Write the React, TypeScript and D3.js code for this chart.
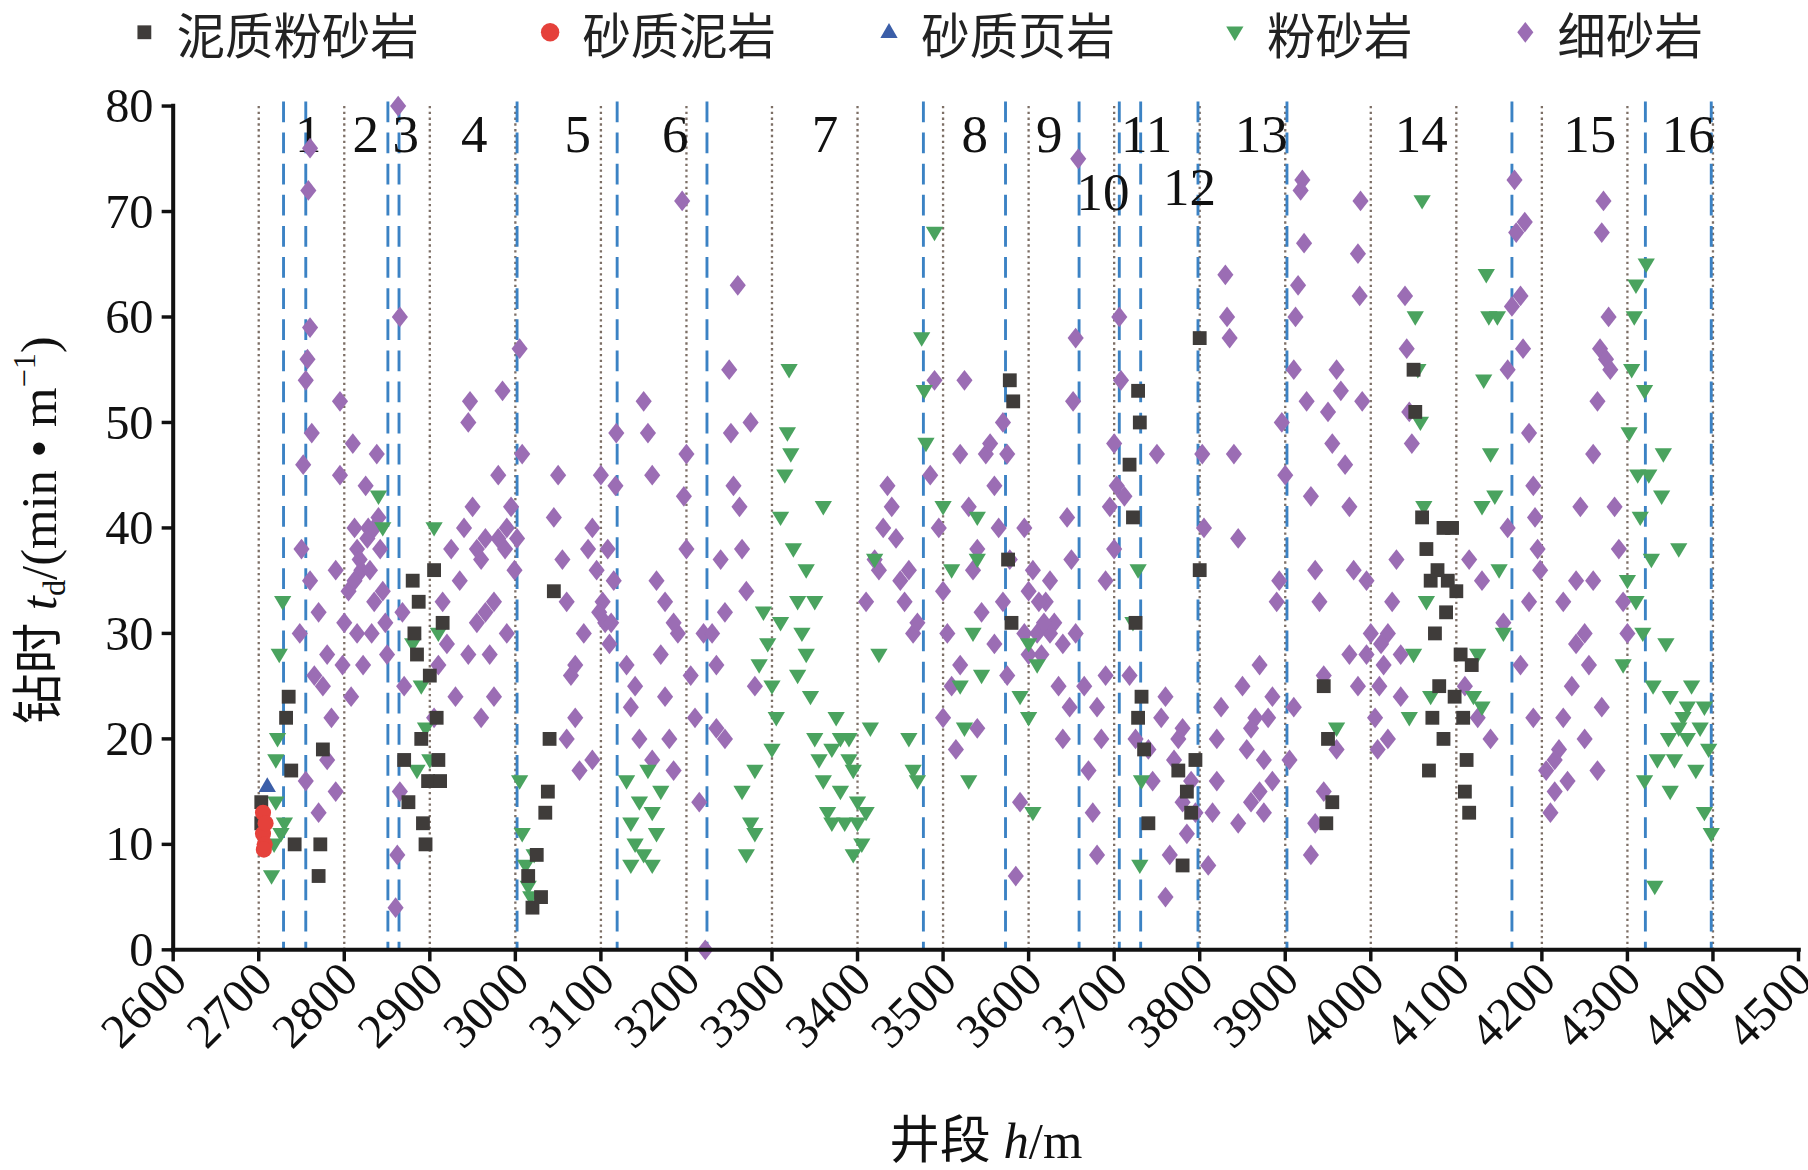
import React from "react";
import * as d3 from "d3";

const xTicks = [2600,2700,2800,2900,3000,3100,3200,3300,3400,3500,3600,3700,3800,3900,4000,4100,4200,4300,4400,4500];
const yTicks = [0,10,20,30,40,50,60,70,80];
const grayLines = [2700,2800,2900,3000,3100,3200,3300,3400,3500,3600,3700,3800,3900,4000,4100,4200,4300,4400];
const blueLines = [2729,2755,2851,2864,3002,3119,3224,3477,3573,3659,3706,3731,3798,3902,4165,4321,4398];
const zoneLabels: [string, number, number][] = [["1",2758,80],["2",2825,80],["3",2872,80],["4",2952,80],["5",3073,80],["6",3187,80],["7",3362,80],["8",3537,80],["9",3624,80],["10",3687,74.5],["11",3738,80],["12",3788,75],["13",3872,80],["14",4059,80],["15",4256,80],["16",4371,80]];

const fineSand: [number, number][] = [
[2750,38],[2752,46],[2755,54],[2757,56],[2758,72],[2760,76],[2760,59],[2762,49],[2765,26],[2770,32],[2775,25],[2780,28],[2785,22],[2790,36],[2795,45],[2795,52],[2798,27],[2790,15],[2770,13],[2755,16],[2760,35],[2748,30],[2780,18],
[2805,34],[2810,48],[2812,40],[2815,38],[2820,36],[2825,44],[2828,40],[2830,36],[2835,33],[2838,47],[2840,41],[2842,38],[2845,34],[2848,31],[2850,28],[2808,24],[2815,30],[2822,27],[2832,30],[2800,31],[2818,37],[2827,39],[2835,40],[2812,35],
[2863,80],[2865,60],[2860,4],[2862,9],[2865,15],[2870,25],[2868,32],
[2905,22],[2910,27],[2915,33],[2920,29],[2925,38],[2930,24],[2935,35],[2940,40],[2945,50],[2947,52],[2950,42],[2955,31],[2960,37],[2965,39],[2970,28],[2975,33],[2980,45],[2985,53],[2988,38],[2990,30],[2995,42],[2999,36],[2960,22],[2975,24],[2990,40],[2945,28],[2955,38],[2965,32],[2980,39],
[3005,57],[3008,47],[3002,39],[3050,45],[3045,41],[3055,37],[3060,33],[3065,26],[3070,22],[3075,17],[3080,30],[3085,38],[3090,40],[3095,36],[3100,45],[3102,33],[3105,31],[3110,29],[3115,35],[3118,49],[3117,44],[3060,20],[3070,27],[3090,18],[3112,31],[3108,38],[3098,32],
[3130,27],[3135,23],[3150,52],[3155,49],[3160,45],[3165,35],[3170,28],[3175,24],[3180,20],[3185,17],[3190,30],[3195,71],[3197,43],[3200,38],[3205,26],[3210,22],[3215,14],[3220,30],[3222,0],[3200,47],[3185,31],[3145,20],[3140,25],[3160,18],[3175,33],
[3230,30],[3235,27],[3240,37],[3245,32],[3250,55],[3252,49],[3255,44],[3260,63],[3262,42],[3265,38],[3270,34],[3275,50],[3280,25],[3245,20],[3235,21],
[3410,33],[3420,37],[3430,40],[3435,44],[3440,42],[3445,39],[3450,35],[3455,33],[3460,36],[3465,30],[3470,31],[3425,36],
[3485,45],[3490,54],[3495,40],[3500,34],[3505,30],[3510,25],[3515,19],[3520,47],[3525,54],[3530,42],[3535,36],[3540,38],[3545,32],[3550,47],[3555,48],[3560,44],[3565,40],[3570,50],[3575,47],[3578,37],[3500,22],[3520,27],[3540,21],[3560,29],[3575,26],[3570,33],
[3585,7],[3590,14],[3595,30],[3600,34],[3605,36],[3610,30],[3615,28],[3620,33],[3625,35],[3630,31],[3635,25],[3640,29],[3645,41],[3650,37],[3655,30],[3658,75],[3655,58],[3652,52],[3648,23],[3640,20],[3600,28],[3625,30],[3595,40],[3612,33],[3618,31],
[3665,25],[3670,17],[3675,13],[3680,9],[3685,20],[3690,35],[3695,42],[3700,48],[3703,44],[3706,60],[3708,54],[3700,38],[3690,26],[3680,23],
[3712,43],[3718,26],[3725,20],[3740,19],[3745,16],[3750,47],[3755,22],[3760,5],[3765,9],[3770,18],[3775,20],[3780,14],[3785,11],[3790,16],[3795,13],[3760,24],[3780,21],
[3803,47],[3805,40],[3810,8],[3815,13],[3820,16],[3825,23],[3830,64],[3832,60],[3835,58],[3840,47],[3845,39],[3850,25],[3855,19],[3860,14],[3865,22],[3870,27],[3875,18],[3880,22],[3885,16],[3890,33],[3893,35],[3896,50],[3900,45],[3820,20],[3845,12],[3870,15],[3885,24],[3860,21],[3875,13],
[3905,18],[3910,55],[3912,60],[3915,63],[3918,72],[3920,73],[3922,67],[3925,52],[3930,43],[3935,36],[3940,33],[3945,26],[3950,51],[3955,48],[3960,55],[3965,53],[3970,46],[3975,42],[3980,36],[3985,66],[3987,62],[3988,71],[3990,52],[3995,35],[3930,9],[3935,12],[3960,19],[3975,28],[3910,23],[3945,15],[3985,25],[3995,28],
[4005,22],[4010,25],[4015,27],[4020,30],[4025,33],[4030,37],[4035,28],[4040,62],[4042,57],[4045,51],[4048,48],[4000,30],[4008,19],[4020,20],[4035,24],[4012,29],
[4110,25],[4115,37],[4125,22],[4130,35],[4140,20],[4155,31],[4160,55],[4165,61],[4168,73],[4170,68],[4175,62],[4178,57],[4180,69],[4185,49],[4190,44],[4192,41],[4195,38],[4198,36],[4160,40],[4175,27],[4185,33],[4190,22],
[4205,17],[4210,13],[4215,15],[4220,19],[4225,22],[4230,16],[4235,25],[4240,35],[4245,42],[4250,30],[4255,27],[4260,47],[4265,52],[4268,57],[4270,68],[4272,71],[4275,56],[4278,60],[4280,55],[4285,42],[4290,38],[4295,33],[4300,30],[4265,17],[4270,23],[4250,20],[4225,33],[4240,29],[4215,18],[4260,35]
];

const siltstone: [number, number][] = [
[2715,7],[2718,10],[2720,18],[2722,20],[2724,28],[2728,33],[2730,12],[2726,11],[2720,14],
[2840,43],[2845,40],[2880,29],[2890,25],[2895,21],[2900,18],[2905,40],[2910,30],[2885,17],
[3005,16],[3008,11],[3012,8],[3015,6],[3018,5],[3022,9],
[3130,16],[3135,12],[3140,10],[3145,14],[3150,9],[3155,17],[3160,13],[3165,11],[3170,15],[3135,8],[3160,8],
[3265,15],[3270,9],[3275,12],[3280,17],[3285,27],[3290,32],[3295,29],[3300,25],[3305,22],[3310,41],[3315,45],[3318,49],[3320,55],[3322,47],[3325,38],[3330,33],[3335,30],[3340,28],[3345,24],[3350,20],[3355,18],[3360,16],[3365,13],[3370,19],[3375,22],[3380,15],[3385,12],[3390,20],[3395,17],[3400,14],[3405,10],[3410,13],[3415,21],[3420,37],[3425,28],[3395,9],[3360,42],[3340,36],[3300,19],[3280,11],[3350,33],[3390,18],[3370,12],[3310,31],[3330,26],[3380,20],[3400,12],
[3460,20],[3465,17],[3470,16],[3475,58],[3478,53],[3480,48],[3490,68],[3500,42],[3510,36],[3520,25],[3530,16],[3535,30],[3540,37],[3545,26],[3525,21],[3540,41],
[3590,24],[3600,22],[3605,13],[3610,27],[3600,29],
[3722,31],[3728,36],[3730,8],[3732,16],
[3960,21],
[4045,22],[4050,28],[4052,60],[4055,55],[4058,50],[4060,71],[4062,42],[4065,33],[4070,24],[4120,24],[4125,28],[4130,42],[4132,54],[4135,64],[4138,60],[4140,47],[4145,43],[4148,60],[4150,36],[4155,30],[4130,23],
[4295,27],[4300,35],[4302,49],[4305,55],[4308,60],[4310,63],[4312,45],[4315,41],[4318,30],[4320,53],[4322,65],[4325,45],[4328,37],[4330,25],[4332,6],[4335,18],[4340,43],[4342,47],[4345,29],[4348,20],[4350,24],[4355,18],[4360,38],[4365,22],[4370,20],[4375,25],[4380,17],[4385,21],[4390,13],[4395,19],[4398,11],[4390,23],[4320,16],[4310,33],[4350,15],[4360,21],[4370,23]
];

const muddySilt: [number, number][] = [
[2703,12],[2703,14],[2732,22],[2735,24],[2738,17],[2742,10],[2770,7],[2772,10],[2775,19],[2870,18],[2875,14],[2880,35],[2882,30],[2885,28],[2887,33],[2890,20],[2892,12],[2895,10],[2898,16],[2900,26],[2905,36],[2908,22],[2910,18],[2915,31],[2912,16],
[3015,7],[3020,4],[3025,9],[3030,5],[3035,13],[3040,20],[3045,34],[3038,15],
[3578,54],[3582,52],[3576,37],[3580,31],
[3718,46],[3722,41],[3725,31],[3728,53],[3730,50],[3732,24],[3735,19],[3740,12],[3728,22],[3775,17],[3785,15],[3790,13],[3795,18],[3800,58],[3800,36],[3780,8],
[3945,25],[3950,20],[3955,14],[3948,12],
[4050,55],[4052,51],[4060,41],[4065,38],[4070,35],[4075,30],[4080,25],[4085,20],[4090,35],[4095,40],[4100,34],[4105,28],[4108,22],[4112,18],[4115,13],[4118,27],[4068,17],[4078,36],[4088,32],[4098,24],[4110,15],[4085,40],[4072,22]
];

const sandyMud: [number, number][] = [[2705,13],[2705,11],[2707,10],[2708,12],[2706,9.5]];
const sandyShale: [number, number][] = [[2710,15.5]];

const C = { black: "#3f3c3a", red: "#e5413b", blue: "#3b5ea8", green: "#4aa35f", purple: "#9b6db4" };

const diamondPath = "M0,-9L7,0L0,9L-7,0Z";
const tri = "M0,-8L7.5,5L-7.5,5Z";
const triDown = "M0,7.5L-7.5,-5L7.5,-5Z";
const sq = "M-6,-6H6V6H-6Z";

export default function App() {
  const x = d3.scaleLinear().domain([2600, 4500]).range([150, 1560]);
  const y = d3.scaleLinear().domain([0, 80]).range([824, 92]);
  const serif = "'Liberation Serif', 'Times New Roman', serif";
  const cjk = "'Noto Sans CJK SC', sans-serif";
  const legend = [
    { label: "泥质粉砂岩", x: 125, d: sq, c: C.black },
    { label: "砂质泥岩", x: 477, d: "", c: C.red },
    { label: "砂质页岩", x: 771, d: tri, c: C.blue },
    { label: "粉砂岩", x: 1071, d: triDown, c: C.green },
    { label: "细砂岩", x: 1323, d: diamondPath, c: C.purple },
  ];
  return (
    <svg width={1808} height={1170} viewBox="0 0 1568 1015" style={{ position: "absolute", left: 0, top: 0, background: "#fff" }}>
      {legend.map((l) => (
        <g key={l.label}>
          {l.d ? <path d={l.d} transform={`translate(${l.x},28)`} fill={l.c} /> : <circle cx={l.x} cy={28} r={8} fill={l.c} />}
          <text x={l.x + 28} y={47} fontFamily={cjk} fontSize={42} fill="#222">{l.label}</text>
        </g>
      ))}
      {grayLines.map((v) => (
        <line key={"g" + v} x1={x(v)} x2={x(v)} y1={92} y2={824} stroke="#7d6f66" strokeWidth={2} strokeDasharray="2,3" />
      ))}
      {blueLines.map((v, i) => (
        <line key={"b" + i} x1={x(v)} x2={x(v)} y1={88} y2={824} stroke="#3b82c4" strokeWidth={2.5} strokeDasharray="18,9" />
      ))}
      {zoneLabels.map(([t, h, v]) => (
        <text key={"z" + t} x={x(h)} y={y(v) + 40} textAnchor="middle" fontFamily={serif} fontSize={46} fill="#111">{t}</text>
      ))}
      {fineSand.map(([h, v], i) => <path key={"p" + i} d={diamondPath} transform={`translate(${x(h)},${y(v)})`} fill={C.purple} />)}
      {siltstone.map(([h, v], i) => <path key={"s" + i} d={triDown} transform={`translate(${x(h)},${y(v)})`} fill={C.green} />)}
      {muddySilt.map(([h, v], i) => <path key={"m" + i} d={sq} transform={`translate(${x(h)},${y(v)})`} fill={C.black} />)}
      {sandyMud.map(([h, v], i) => <circle key={"r" + i} cx={x(h)} cy={y(v)} r={7} fill={C.red} />)}
      {sandyShale.map(([h, v], i) => <path key={"t" + i} d={tri} transform={`translate(${x(h)},${y(v)})`} fill={C.blue} />)}
      <line x1={150} x2={150} y1={90} y2={826} stroke="#111" strokeWidth={3.5} />
      <line x1={148} x2={1562} y1={824} y2={824} stroke="#111" strokeWidth={3.5} />
      {yTicks.map((t) => (
        <g key={"yt" + t}>
          <line x1={140} x2={150} y1={y(t)} y2={y(t)} stroke="#111" strokeWidth={3} />
          <text x={133} y={y(t) + 14} textAnchor="end" fontFamily={serif} fontSize={42} fill="#111">{t}</text>
        </g>
      ))}
      {xTicks.map((t) => (
        <g key={"xt" + t}>
          <line x1={x(t)} x2={x(t)} y1={824} y2={834} stroke="#111" strokeWidth={3} />
          <text transform={`translate(${x(t) + 14},${852}) rotate(-45)`} textAnchor="end" fontFamily={serif} fontSize={42} fill="#111">{t}</text>
        </g>
      ))}
      <text transform="translate(48,460) rotate(-90)" textAnchor="middle" fontSize={44} fill="#111">
        <tspan fontFamily={cjk}>钻时</tspan>
        <tspan fontFamily={serif} fontStyle="italic"> t</tspan>
        <tspan fontFamily={serif} fontSize={28} dy={8}>d</tspan>
        <tspan fontFamily={serif} dy={-8}>/(min • m</tspan>
        <tspan fontFamily={serif} fontSize={28} dy={-18}>−1</tspan>
        <tspan fontFamily={serif} dy={18}>)</tspan>
      </text>
      <text x={855} y={1005} textAnchor="middle" fontSize={44} fill="#111">
        <tspan fontFamily={cjk}>井段</tspan>
        <tspan fontFamily={serif} fontStyle="italic"> h</tspan>
        <tspan fontFamily={serif}>/m</tspan>
      </text>
    </svg>
  );
}
